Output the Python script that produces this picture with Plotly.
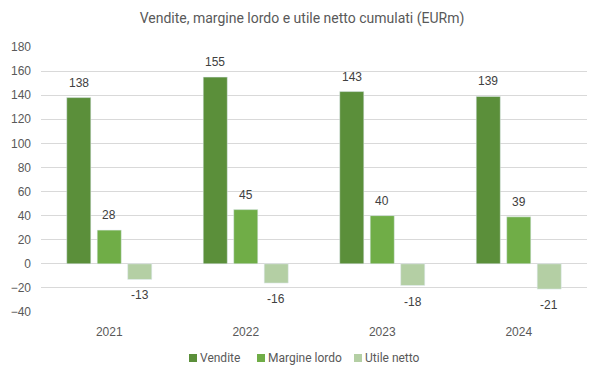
import plotly.graph_objects as go

years = ["2021", "2022", "2023", "2024"]
vendite = [138, 155, 143, 139]
margine = [28, 45, 40, 39]
utile = [-13, -16, -18, -21]

series = [
    ("Vendite", vendite, "#5B8F3A"),
    ("Margine lordo", margine, "#70AD47"),
    ("Utile netto", utile, "#B4CFA4"),
]

# page body has a default margin, so the figure is drawn a few px in from the top-left
OFF = 8
W, H = 603 - OFF, 378 - OFF
ML, MR, MT, MB = 41 - OFF, 16, 39, 66
PW, PH = W - ML - MR, H - MT - MB
BARGAP = 0.33
slot = PW / len(years) * (1 - BARGAP) / len(series)

fig = go.Figure()
annotations = []
for i, (name, vals, color) in enumerate(series):
    fig.add_trace(go.Bar(
        x=years, y=vals, name=name, marker_color=color, showlegend=False,
        hoverinfo="x+y+name",
    ))
    for j, v in enumerate(vals):
        # category axis: annotation x given as the category index
        annotations.append(dict(
            x=j, y=v, xref="x", yref="y", text=str(v), showarrow=False,
            xshift=(i - 1) * slot, yshift=15 if v >= 0 else -16,
            yanchor="middle", xanchor="center",
            font=dict(family="Liberation Sans, Arial", size=12, color="#404040"),
        ))

# manual legend (small squares close to labels, as in the reference)
legend_x = [189 - OFF, 257 - OFF, 354 - OFF]
legend_y = 358 - OFF
shapes = []
for (name, vals, color), lx in zip(series, legend_x):
    x0 = (lx - ML) / PW
    x1 = (lx + 8 - ML) / PW
    yc = (H - MB - legend_y) / PH
    shapes.append(dict(type="rect", xref="paper", yref="paper",
                       x0=x0, x1=x1, y0=yc - 4 / PH, y1=yc + 4 / PH,
                       fillcolor=color, line=dict(width=0)))
    annotations.append(dict(
        x=(lx + 9 - ML) / PW, y=yc, xref="paper", yref="paper", text=name,
        showarrow=False, xanchor="left", yanchor="middle",
        font=dict(family="Roboto, Arial", size=12, color="#595959"),
    ))

fig.update_layout(
    width=W, height=H,
    margin=dict(l=ML, r=MR, t=MT, b=MB),
    paper_bgcolor="white", plot_bgcolor="white",
    barmode="group", bargap=BARGAP, bargroupgap=0.21,
    title=dict(text="Vendite, margine lordo e utile netto cumulati (EURm)",
               x=(302 - OFF) / W, xanchor="center", y=1 - (18 - OFF) / H, yanchor="middle",
               font=dict(family="Roboto, Arial", size=14, color="#595959")),
    yaxis=dict(range=[-40, 180], dtick=20, showgrid=True, gridcolor="#D9D9D9", gridwidth=1,
               zeroline=True, zerolinecolor="#D9D9D9", zerolinewidth=1,
               tickfont=dict(family="Liberation Sans, Arial", size=12, color="#595959"),
               ticks="", automargin=False, ticklabelstandoff=9),
    xaxis=dict(type="category", showgrid=False, showline=False, ticks="", automargin=False,
               ticklabelstandoff=11,
               tickfont=dict(family="Liberation Sans, Arial", size=12, color="#595959")),
    showlegend=False,
    annotations=annotations,
    shapes=shapes,
)

fig.write_html("out.html")
